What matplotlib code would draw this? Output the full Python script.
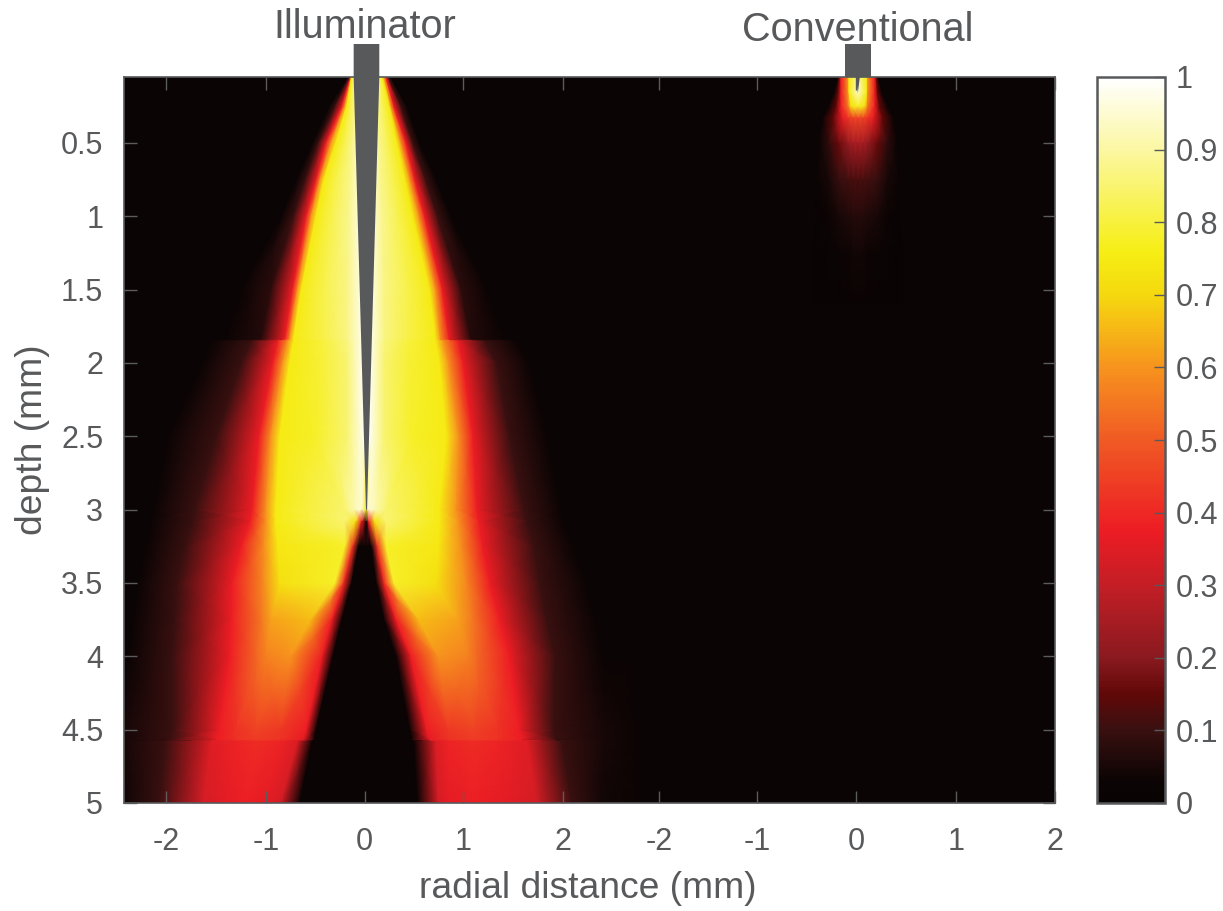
import numpy as np
import matplotlib
matplotlib.use("Agg")
import matplotlib.pyplot as plt
from matplotlib.colors import LinearSegmentedColormap, Normalize
from matplotlib.cm import ScalarMappable

plt.rcParams['font.family'] = ['Liberation Sans', 'DejaVu Sans']

GREY = '#58595b'
CONV_ZERO = 4.985
NEEDLE_C = 0.02

# Illuminator beam: depth rows, then where (mm) each node of the profile sits
depths = [0.05, 0.25, 0.5, 0.75, 1.0, 1.5, 1.84, 1.85, 2.0, 2.5, 3.0, 3.08, 3.25, 3.5, 3.75, 4.0, 4.5, 4.57, 4.58, 5.0]
left_pos = [
    [-0.17, -0.155, -0.14, -0.135, -0.13, -0.12, -0.10, -0.05],
    [-0.36, -0.30, -0.23, -0.20, -0.18, -0.14, -0.09, -0.04],
    [-0.53, -0.47, -0.39, -0.34, -0.29, -0.20, -0.12, -0.05],
    [-0.69, -0.60, -0.49, -0.45, -0.41, -0.28, -0.14, -0.05],
    [-0.85, -0.72, -0.59, -0.54, -0.49, -0.33, -0.16, -0.05],
    [-1.25, -0.95, -0.73, -0.68, -0.64, -0.40, -0.18, -0.05],
    [-1.42, -1.05, -0.81, -0.76, -0.72, -0.42, -0.18, -0.05],
    [-1.55, -1.15, -0.88, -0.78, -0.72, -0.42, -0.18, -0.05],
    [-1.65, -1.25, -0.93, -0.83, -0.76, -0.45, -0.18, -0.05],
    [-2.00, -1.50, -1.07, -0.95, -0.86, -0.50, -0.18, -0.04],
    [-2.15, -1.72, -1.14, -1.00, -0.90, -0.20, -0.10, -0.03],
    [-2.17, -1.74, -1.16, -1.00, -0.90, -0.20, -0.09, -0.03],
    [-2.22, -1.82, -1.25, -1.02, -0.88, -0.20, -0.12, -0.06],
    [-2.30, -1.90, -1.34, -1.03, -0.86, -0.30, -0.21, -0.13],
    [-2.35, -1.92, -1.35, -1.05, -0.95, -0.55, -0.33, -0.23],
    [-2.40, -1.95, -1.37, -1.10, -1.00, -0.75, -0.43, -0.32],
    [-2.43, -1.95, -1.47, -1.30, -1.10, -0.85, -0.59, -0.49],
    [-2.43, -1.97, -1.50, -1.30, -1.10, -0.85, -0.62, -0.51],
    [-2.43, -2.02, -1.55, -1.30, -1.10, -0.85, -0.68, -0.53],
    [-2.43, -2.08, -1.64, -1.40, -1.20, -1.00, -0.85, -0.66],
]
right_pos = [
    [0.27, 0.245, 0.22, 0.20, 0.18, 0.16, 0.12, 0.07],
    [0.43, 0.37, 0.30, 0.27, 0.25, 0.19, 0.13, 0.07],
    [0.56, 0.49, 0.42, 0.37, 0.33, 0.24, 0.15, 0.08],
    [0.73, 0.62, 0.51, 0.46, 0.41, 0.29, 0.16, 0.08],
    [0.88, 0.74, 0.61, 0.55, 0.49, 0.34, 0.18, 0.08],
    [1.25, 0.98, 0.79, 0.72, 0.66, 0.42, 0.20, 0.08],
    [1.42, 1.08, 0.86, 0.77, 0.72, 0.44, 0.20, 0.08],
    [1.55, 1.22, 0.95, 0.80, 0.72, 0.44, 0.20, 0.08],
    [1.68, 1.34, 1.00, 0.85, 0.76, 0.45, 0.20, 0.08],
    [1.85, 1.47, 1.10, 0.95, 0.83, 0.48, 0.20, 0.08],
    [2.00, 1.62, 1.14, 0.93, 0.76, 0.22, 0.11, 0.04],
    [2.02, 1.65, 1.16, 0.95, 0.76, 0.22, 0.10, 0.04],
    [2.12, 1.72, 1.20, 0.98, 0.75, 0.22, 0.13, 0.07],
    [2.25, 1.78, 1.27, 1.03, 0.73, 0.30, 0.20, 0.12],
    [2.35, 1.85, 1.37, 1.10, 0.95, 0.55, 0.32, 0.20],
    [2.42, 1.93, 1.47, 1.15, 1.05, 0.75, 0.47, 0.32],
    [2.42, 1.92, 1.57, 1.35, 1.10, 0.85, 0.63, 0.46],
    [2.42, 1.94, 1.60, 1.35, 1.10, 0.85, 0.66, 0.48],
    [2.42, 2.00, 1.65, 1.35, 1.10, 0.85, 0.72, 0.50],
    [2.42, 2.10, 1.75, 1.40, 1.10, 0.85, 0.75, 0.54],
]
# Intensity at those nodes; the last column is the value on the axis
node_vals = [
    [0.02, 0.10, 0.375, 0.60, 0.75, 0.82, 0.88, 0.96, 1.00],
    [0.02, 0.10, 0.375, 0.60, 0.75, 0.82, 0.88, 0.96, 1.00],
    [0.02, 0.10, 0.375, 0.60, 0.75, 0.82, 0.88, 0.96, 1.00],
    [0.02, 0.10, 0.375, 0.60, 0.75, 0.82, 0.88, 0.96, 1.00],
    [0.02, 0.10, 0.375, 0.60, 0.75, 0.82, 0.88, 0.96, 1.00],
    [0.02, 0.08, 0.375, 0.60, 0.75, 0.82, 0.87, 0.96, 1.00],
    [0.02, 0.07, 0.375, 0.60, 0.75, 0.81, 0.87, 0.96, 1.00],
    [0.02, 0.10, 0.375, 0.60, 0.75, 0.80, 0.86, 0.96, 1.00],
    [0.02, 0.10, 0.375, 0.60, 0.75, 0.79, 0.85, 0.96, 1.00],
    [0.02, 0.10, 0.375, 0.60, 0.75, 0.78, 0.85, 0.96, 1.00],
    [0.02, 0.10, 0.375, 0.60, 0.75, 0.85, 0.92, 0.95, 0.75],
    [0.02, 0.10, 0.375, 0.60, 0.75, 0.85, 0.72, 0.375, 0.05],
    [0.02, 0.10, 0.375, 0.59, 0.74, 0.78, 0.42, 0.03, 0.02],
    [0.02, 0.10, 0.375, 0.58, 0.72, 0.78, 0.40, 0.03, 0.02],
    [0.02, 0.10, 0.375, 0.55, 0.62, 0.66, 0.375, 0.03, 0.02],
    [0.02, 0.10, 0.375, 0.52, 0.57, 0.60, 0.375, 0.03, 0.02],
    [0.05, 0.10, 0.375, 0.42, 0.45, 0.43, 0.375, 0.03, 0.02],
    [0.05, 0.10, 0.375, 0.42, 0.44, 0.42, 0.36, 0.03, 0.02],
    [0.05, 0.10, 0.35, 0.39, 0.41, 0.39, 0.34, 0.03, 0.02],
    [0.04, 0.10, 0.33, 0.36, 0.38, 0.36, 0.33, 0.03, 0.02],
]

# Conventional probe: half widths (mm) and intensities, last node on axis
conv_depths = [0.05, 0.15, 0.25, 0.33, 0.5, 0.75, 1.0, 1.25, 1.6]
conv_half = [
    [0.20, 0.19, 0.17, 0.10, 0.09, 0.0],
    [0.24, 0.20, 0.17, 0.10, 0.09, 0.0],
    [0.30, 0.22, 0.17, 0.10, 0.07, 0.0],
    [0.36, 0.25, 0.16, 0.10, 0.05, 0.0],
    [0.40, 0.30, 0.20, 0.10, 0.05, 0.0],
    [0.42, 0.30, 0.20, 0.10, 0.05, 0.0],
    [0.42, 0.30, 0.20, 0.10, 0.05, 0.0],
    [0.45, 0.30, 0.20, 0.10, 0.05, 0.0],
    [0.45, 0.30, 0.20, 0.10, 0.05, 0.0],
]
conv_vals = [
    [0.02, 0.15, 0.38, 0.60, 0.75, 0.90],
    [0.02, 0.15, 0.38, 0.60, 0.75, 0.95],
    [0.02, 0.15, 0.38, 0.55, 0.72, 0.78],
    [0.02, 0.15, 0.36, 0.42, 0.45, 0.45],
    [0.02, 0.08, 0.16, 0.22, 0.25, 0.25],
    [0.02, 0.05, 0.09, 0.11, 0.12, 0.12],
    [0.015, 0.03, 0.05, 0.06, 0.07, 0.07],
    [0.015, 0.02, 0.03, 0.035, 0.04, 0.04],
    [0.015, 0.015, 0.015, 0.015, 0.015, 0.015],
]

tick_pos = [-2.01, -1, 0, 1, 2.015, 2.985, 3.98, 4.985, 6.0, 7.0]
tick_labels = ['-2', '-1', '0', '1', '2', '-2', '-1', '0', '1', '2']
y_ticks = [0.5, 1, 1.5, 2, 2.5, 3, 3.5, 4, 4.5, 5]
y_labels = ['0.5', '1', '1.5', '2', '2.5', '3', '3.5', '4', '4.5', '5']
cbar_ticks = [0, 0.1, 0.2, 0.3, 0.4, 0.5, 0.6, 0.7, 0.8, 0.9, 1]
cbar_labels = ['0', '0.1', '0.2', '0.3', '0.4', '0.5', '0.6', '0.7', '0.8', '0.9', '1']

cmap = LinearSegmentedColormap.from_list('beam', [
    (0.0, '#080303'), (0.03, '#0c0404'), (0.1, '#3a1010'), (0.15, '#620808'), (0.2, '#8a1a20'),
    (0.3, '#c41e25'), (0.375, '#ed1c24'), (0.5, '#f05a24'), (0.6, '#f7931e'),
    (0.7, '#f5d80f'), (0.76, '#f6ee14'), (0.9, '#fbf7a0'), (1.0, '#ffffff')])
norm = Normalize(0, 1)

fig = plt.figure(figsize=(12.23, 9.11), dpi=100, facecolor='white')
W, H = 1223, 911
ax = fig.add_axes([124 / W, 1 - 803 / H, (1055 - 124) / W, (803 - 77) / H])
ax.set_facecolor(cmap(0.02))

# illuminator mesh
d = np.array(depths)
L = np.array(left_pos)
R = np.array(right_pos)
V = np.array(node_vals)
n = len(d)
X = np.hstack([np.full((n, 1), -2.6), L, np.full((n, 1), NEEDLE_C), R[:, ::-1], np.full((n, 1), 2.8)])
Z = np.hstack([np.full((n, 1), 0.02), V, V[:, :-1][:, ::-1], np.full((n, 1), 0.02)])
Y = np.repeat(d[:, None], X.shape[1], axis=1)
# conventional mesh
cd = np.array(conv_depths)
CH = np.array(conv_half)
CV = np.array(conv_vals)
CC = CONV_ZERO + NEEDLE_C
CX = np.hstack([CC - CH, CC + CH[:, :-1][:, ::-1]])
CZ = np.hstack([CV, CV[:, :-1][:, ::-1]])
CY = np.repeat(cd[:, None], CX.shape[1], axis=1)
# each mesh is laid down twice so that the seams between its triangles close
for _ in range(2):
    ax.pcolormesh(X, Y, Z, shading='gouraud', cmap=cmap, norm=norm)
    ax.pcolormesh(CX, CY, CZ, shading='gouraud', cmap=cmap, norm=norm)

ax.set_xlim(-2.44, 7.005)
ax.set_ylim(5, 0.05)
ax.set_xticks(tick_pos, tick_labels)
ax.set_yticks(y_ticks, y_labels)
ax.tick_params(axis='both', direction='in', length=9, width=1, color='#5c5c5c',
               top=True, right=True, labelsize=22, labelcolor=GREY)
ax.tick_params(axis='x', pad=17)
ax.tick_params(axis='y', pad=15)
for s in ax.spines.values():
    s.set_color(GREY)
    s.set_linewidth(1.2)

# probes
half = 0.13
ax.fill([NEEDLE_C - half, NEEDLE_C + half, NEEDLE_C + half, NEEDLE_C + 0.005, NEEDLE_C - 0.005, NEEDLE_C - half],
        [-0.175, -0.175, 0.05, 3.0, 3.0, 0.05], color=GREY, clip_on=False, zorder=5, lw=0)
ax.fill([CC - half, CC + half, CC + half, CC - half],
        [-0.175, -0.175, 0.05, 0.05], color=GREY, clip_on=False, zorder=5, lw=0)
ax.fill([CC - 0.02, CC + 0.02, CC], [0.05, 0.05, 0.16], color=GREY, zorder=5, lw=0)

ax.text(0, -0.29, 'Illuminator', ha='center', va='center', fontsize=28.5, color=GREY, clip_on=False)
ax.text(CONV_ZERO + 0.02, -0.27, 'Conventional', ha='center', va='center', fontsize=28.5, color=GREY, clip_on=False)
fig.text(588 / W, 1 - 888 / H, 'radial distance (mm)', ha='center', va='center', fontsize=26.8, color=GREY)
fig.text(33 / W, 1 - 440 / H, 'depth (mm)', ha='center', va='center', rotation=90, fontsize=26.8, color=GREY)

# colour bar
cax = fig.add_axes([1097 / W, 1 - 803 / H, (1165 - 1097) / W, (803 - 77) / H])
cb = fig.colorbar(ScalarMappable(norm=norm, cmap=cmap), cax=cax, ticks=cbar_ticks)
cb.ax.set_yticklabels(cbar_labels)
cb.ax.tick_params(direction='in', length=8, width=1, color=GREY, labelsize=22, labelcolor=GREY, pad=8)
cb.outline.set_edgecolor(GREY)
cb.outline.set_linewidth(1.8)

fig.savefig('out.png', dpi=100)
